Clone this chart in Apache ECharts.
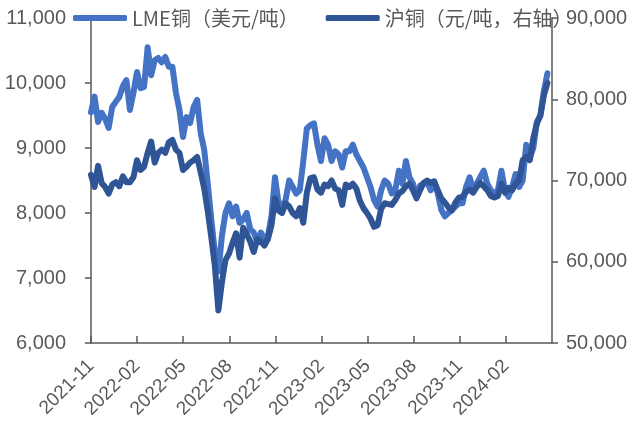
<!DOCTYPE html>
<html>
<head>
<meta charset="utf-8">
<script src="https://cdn.jsdelivr.net/npm/echarts@6/dist/echarts.min.js"></script>
<style>
  body { margin: 0; background: #fff; }
  #chart { width: 632px; height: 421px; }
</style>
</head>
<body>
<div id="chart"></div>
<script>
// 周度取样，从 2021-11-01 起每 7 天一个点
var startYear = 2021, startMonth = 11;
var stepDays = 7;
var axisDays = 912;           // 2021-11-01 ~ 2024-05-01
var monthTicks = 10;          // 每 3 个月一个刻度

var lmeName = 'LME铜（美元/吨）';
var shfeName = '沪铜（元/吨，右轴）';

var lme = [
  9550, 9790, 9400, 9540, 9450, 9310, 9630, 9710, 9785, 9950,
  10045, 9585, 9850, 10170, 9920, 9940, 10550, 10120, 10350, 10385,
  10320, 10400, 10250, 10250, 9850, 9585, 9170, 9475, 9385, 9630,
  9740, 9230, 8970, 8450, 7900, 7400, 7100, 7650, 8000, 8150,
  7950, 8100, 7850, 7900, 8000, 7750, 7700, 7550, 7700, 7600,
  7650, 7950, 8550, 8150, 8100, 8200, 8500, 8400, 8300, 8350,
  8800, 9300, 9350, 9380, 9050, 8800, 9150, 9050, 8800, 8950,
  8900, 8700, 8950, 8950, 9050, 8900, 8800, 8700, 8550, 8400,
  8200, 8100, 8350, 8500, 8450, 8300, 8350, 8650, 8450, 8800,
  8550, 8450, 8250, 8420, 8450, 8480, 8350, 8480, 8300, 8050,
  7950, 8000, 8050, 8100, 8150, 8150, 8400, 8550, 8350, 8450,
  8550, 8650, 8450, 8350, 8300, 8350, 8650, 8350, 8250, 8400,
  8600, 8400, 8500, 9050, 8850, 9000, 9400, 9500, 9880, 10150
];

var shfe = [
  70700, 69200, 71800, 69700, 69200, 68400, 69500, 69800, 69300, 70500,
  69800, 69800, 70400, 72500, 71300, 71700, 73400, 74800, 72200, 73400,
  73800, 73400, 74700, 75000, 73800, 73400, 71300, 71700, 72200, 72500,
  72900, 71000, 69000, 66200, 63000, 59500, 54000, 57500, 60200, 61000,
  62300, 63500, 60500, 64200, 63400, 62500, 61200, 62800, 62500, 62000,
  62800, 64500, 67800, 66300, 66000, 67200, 66800, 66000, 65600, 66600,
  64800, 68500, 70300, 70400, 68900, 68500, 69500, 69300, 70000, 69000,
  68800, 67000, 69500, 69200, 69600, 69000, 67500, 66600, 66000, 65300,
  64300, 64500, 66500, 67200, 67100, 67000, 67600, 68400, 68700, 69300,
  69600, 68800, 67800, 68800, 69700, 70000, 69700, 69900, 68800, 67800,
  67300, 66700, 66300, 67300, 67900, 68000, 68600, 68900, 68500, 69200,
  69700, 69300, 68800, 68100, 67900, 68100, 69600, 68500, 69100, 68800,
  69600, 70000, 72500, 72900, 72500, 75200, 77000, 78000, 80500, 82000
];

function pairs(arr) {
  return arr.map(function (v, i) { return [i * stepDays, v]; });
}

function monthLabel(v) {
  var k = Math.round(v / (axisDays / 30));
  var m = startMonth - 1 + k;
  var y = startYear + Math.floor(m / 12);
  var mm = m % 12 + 1;
  return y + '-' + (mm < 10 ? '0' + mm : mm);
}

function thousands(v) {
  return v.toLocaleString('en-US');
}

var grey = '#595959';
var labelFont = 'Liberation Sans, Arial, sans-serif';

var option = {
  animation: false,
  backgroundColor: '#fff',
  grid: { left: 91, right: 80, top: 18, bottom: 78, outerBoundsMode: 'none' },
  legend: {
    left: 73, top: 8, width: 559, padding: 0,
    icon: 'roundRect', itemWidth: 54, itemHeight: 6, itemGap: 27,
    textStyle: { color: grey, fontSize: 20, fontFamily: 'Noto Sans CJK SC' },
    data: [lmeName, shfeName]
  },
  xAxis: {
    type: 'value',
    min: 0, max: axisDays, interval: axisDays / monthTicks,
    axisLine: { lineStyle: { color: grey, width: 1.5 } },
    axisTick: { inside: true, length: 7, lineStyle: { color: grey, width: 1.5 } },
    splitLine: { show: false },
    axisLabel: {
      rotate: 45, margin: 20, color: grey, fontSize: 19, fontFamily: labelFont,
      showMaxLabel: false, formatter: monthLabel
    }
  },
  yAxis: [{
    type: 'value', position: 'left',
    min: 6000, max: 11000, interval: 1000,
    axisLine: { show: true, lineStyle: { color: grey, width: 1.5 } },
    axisTick: { show: true, length: 6, lineStyle: { color: grey, width: 1.5 } },
    splitLine: { show: false },
    axisLabel: { margin: 25, color: grey, fontSize: 20, fontFamily: labelFont, formatter: thousands }
  }, {
    type: 'value', position: 'right',
    min: 50000, max: 90000, interval: 10000,
    axisLine: { show: true, lineStyle: { color: grey, width: 1.5 } },
    axisTick: { show: true, length: 6, lineStyle: { color: grey, width: 1.5 } },
    splitLine: { show: false },
    axisLabel: { margin: 14, color: grey, fontSize: 20, fontFamily: labelFont, formatter: thousands }
  }],
  series: [{
    name: lmeName, type: 'line', yAxisIndex: 0,
    data: pairs(lme), symbol: 'none',
    itemStyle: { color: '#4472C4' },
    lineStyle: { color: '#4472C4', width: 6, cap: 'round', join: 'round' }
  }, {
    name: shfeName, type: 'line', yAxisIndex: 1,
    data: pairs(shfe), symbol: 'none',
    itemStyle: { color: '#2F5597' },
    lineStyle: { color: '#2F5597', width: 6, cap: 'round', join: 'round' }
  }]
};

var myChart = echarts.init(document.getElementById('chart'));
myChart.setOption(option);
window.addEventListener('resize', myChart.resize);
</script>
</body>
</html>
